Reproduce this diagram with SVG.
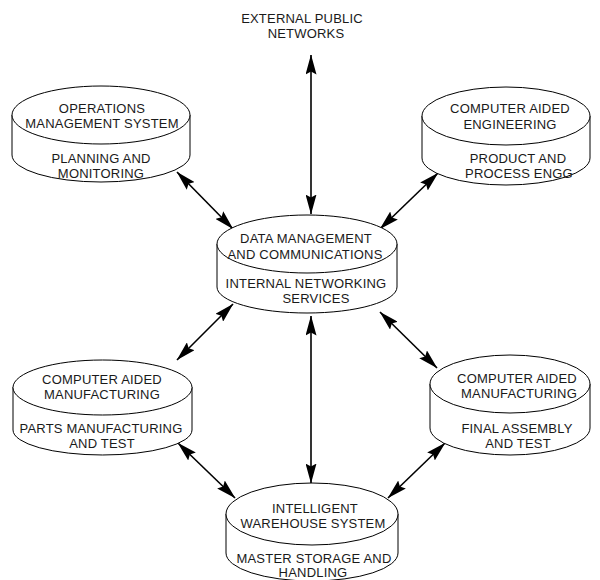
<svg xmlns="http://www.w3.org/2000/svg" width="600" height="580" viewBox="0 0 600 580">
<style>
.cyl{fill:#fff;stroke:#000;stroke-width:1}
.t{font-family:"Liberation Sans",Arial,sans-serif;font-size:13px;fill:#1a1a1a;text-anchor:middle;letter-spacing:0.2px}
.c{stroke:#000;stroke-width:1.6;fill:none;marker-start:url(#ah);marker-end:url(#ah)}
</style>
<defs>
<marker id="ah" viewBox="0 0 20 11" refX="19.5" refY="5.5" markerWidth="20" markerHeight="11" markerUnits="userSpaceOnUse" orient="auto-start-reverse">
<path d="M0,0 L20,5.5 L0,11 L3,5.5 z" fill="#000"/>
</marker>
</defs>
<rect width="600" height="580" fill="#fff"/>
<g id="connectors">
<line class="c" x1="311" y1="55" x2="311" y2="214"/>
<line class="c" x1="177" y1="172" x2="233" y2="229"/>
<line class="c" x1="438" y1="173" x2="380" y2="229"/>
<line class="c" x1="233" y1="304" x2="177" y2="360"/>
<line class="c" x1="380" y1="312" x2="437" y2="368"/>
<line class="c" x1="311" y1="316" x2="311" y2="483"/>
<line class="c" x1="178" y1="443" x2="235" y2="498"/>
<line class="c" x1="445" y1="443" x2="388" y2="498"/>
</g>
<g id="external">
<text class="t" x="302" y="23">EXTERNAL PUBLIC</text>
<text class="t" x="306" y="38">NETWORKS</text>
</g>
<g id="ops">
<path class="cyl" d="M12,115 V155 A89,27 0 0 0 190,155 V115"/>
<ellipse class="cyl" cx="101" cy="115" rx="89" ry="29"/>
<text class="t" x="102" y="113">OPERATIONS</text>
<text class="t" x="102" y="128">MANAGEMENT SYSTEM</text>
<text class="t" x="101" y="163">PLANNING AND</text>
<text class="t" x="101" y="178">MONITORING</text>
</g>
<g id="cae">
<path class="cyl" d="M422,116 V158 A84,27 0 0 0 590,158 V116"/>
<ellipse class="cyl" cx="506" cy="116" rx="84" ry="29"/>
<text class="t" x="510" y="113">COMPUTER AIDED</text>
<text class="t" x="510" y="129">ENGINEERING</text>
<text class="t" x="518" y="163">PRODUCT AND</text>
<text class="t" x="519" y="178">PROCESS ENGG</text>
</g>
<g id="datamgmt">
<path class="cyl" d="M217,244 V287 A90,26 0 0 0 397,287 V244"/>
<ellipse class="cyl" cx="307" cy="244" rx="90" ry="29"/>
<text class="t" x="306" y="243">DATA MANAGEMENT</text>
<text class="t" x="305" y="259">AND COMMUNICATIONS</text>
<text class="t" x="306" y="288">INTERNAL NETWORKING</text>
<text class="t" x="316" y="303">SERVICES</text>
</g>
<g id="cam-parts">
<path class="cyl" d="M13,387 V430 A89.5,25 0 0 0 192,430 V387"/>
<ellipse class="cyl" cx="102.5" cy="387.5" rx="89.5" ry="27.5"/>
<text class="t" x="102" y="384">COMPUTER AIDED</text>
<text class="t" x="102" y="399">MANUFACTURING</text>
<text class="t" x="101" y="433">PARTS MANUFACTURING</text>
<text class="t" x="102" y="448">AND TEST</text>
</g>
<g id="cam-final">
<path class="cyl" d="M430,384 V428 A80,27 0 0 0 590,428 V384"/>
<ellipse class="cyl" cx="510" cy="384" rx="80" ry="29"/>
<text class="t" x="517" y="383">COMPUTER AIDED</text>
<text class="t" x="519" y="398">MANUFACTURING</text>
<text class="t" x="517" y="433">FINAL ASSEMBLY</text>
<text class="t" x="518" y="448">AND TEST</text>
</g>
<g id="warehouse">
<path class="cyl" d="M226,514 V553 A86,28 0 0 0 398,553 V514"/>
<ellipse class="cyl" cx="312" cy="514" rx="86" ry="31"/>
<text class="t" x="315" y="513">INTELLIGENT</text>
<text class="t" x="313" y="528">WAREHOUSE SYSTEM</text>
<text class="t" x="314" y="563">MASTER STORAGE AND</text>
<text class="t" x="313" y="577">HANDLING</text>
</g>
</svg>
